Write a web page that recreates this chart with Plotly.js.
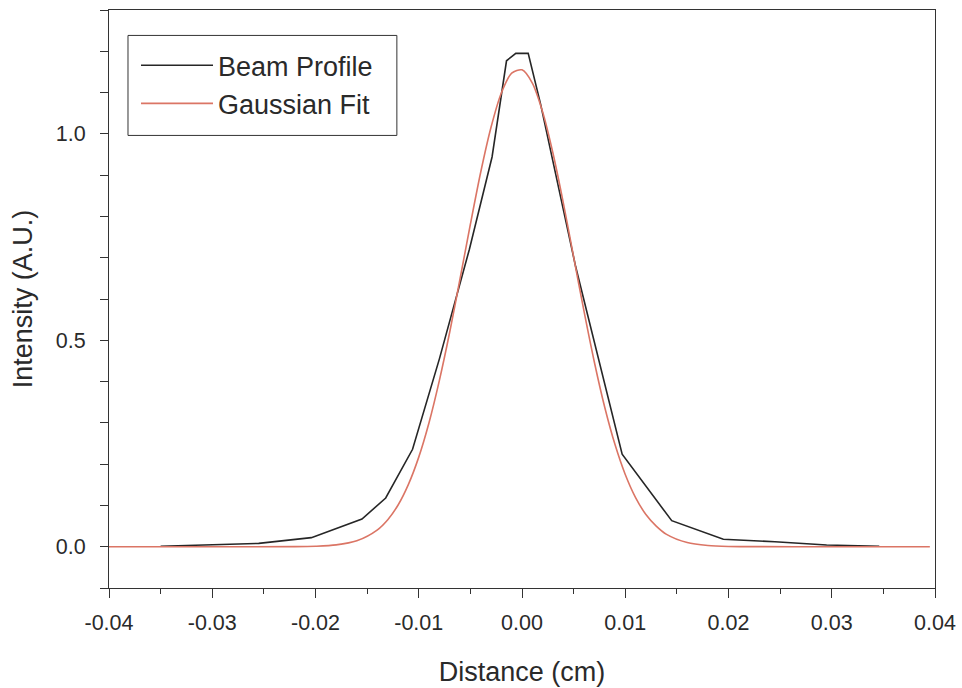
<!DOCTYPE html>
<html>
<head>
<meta charset="utf-8">
<script src="https://cdn.plot.ly/plotly-3.0.1.min.js"></script>
<style>
  html, body { margin: 0; padding: 0; background: #ffffff; }
  #chart { width: 962px; height: 688px; }
</style>
</head>
<body>
<div id="chart"></div>
<script>
// Beam profile (measured, piecewise linear)
const beamX = [-0.0350, -0.0303, -0.0255, -0.0204, -0.0155, -0.0132, -0.0106, -0.0080, -0.0051, -0.0029, -0.0015, -0.0006, 0.0006, 0.0018, 0.0052, 0.0097, 0.0145, 0.0195, 0.0245, 0.0295, 0.0346];
const beamY = [0.001, 0.004, 0.008, 0.022, 0.067, 0.118, 0.236, 0.455, 0.720, 0.944, 1.177, 1.195, 1.195, 1.072, 0.678, 0.224, 0.063, 0.018, 0.012, 0.004, 0.001];

// Gaussian fit
const fitX = [-0.040, -0.030, -0.022, -0.020, -0.018, -0.016, -0.014, -0.013, -0.012, -0.011, -0.010, -0.009, -0.008, -0.007, -0.006, -0.005, -0.004, -0.003, -0.002, -0.001, 0.000, 0.001, 0.002, 0.003, 0.004, 0.005, 0.006, 0.007, 0.008, 0.009, 0.010, 0.011, 0.012, 0.013, 0.014, 0.016, 0.018, 0.020, 0.022, 0.030, 0.0395];
const fitY = [0, 0, 0.0002, 0.0012, 0.0044, 0.0144, 0.041, 0.0655, 0.101, 0.151, 0.217, 0.301, 0.403, 0.520, 0.649, 0.781, 0.907, 1.016, 1.099, 1.147, 1.155, 1.123, 1.053, 0.953, 0.833, 0.702, 0.571, 0.448, 0.339, 0.248, 0.175, 0.119, 0.078, 0.050, 0.030, 0.010, 0.003, 0.0007, 0.0002, 0, 0];

// Tick labels
const xTickVals = [-0.04, -0.03, -0.02, -0.01, 0.00, 0.01, 0.02, 0.03, 0.04];
const xTickText = ["-0.04", "-0.03", "-0.02", "-0.01", "0.00", "0.01", "0.02", "0.03", "0.04"];
const yTickVals = [0.0, 0.5, 1.0];
const yTickText = ["0.0", "0.5", "1.0"];

const seriesNames = ["Beam Profile", "Gaussian Fit"];
const xTitle = "Distance (cm)";
const yTitle = "Intensity (A.U.)";

const FONT = "Liberation Sans, Arial, sans-serif";
const INK = "#2a2a2a";

const traces = [
  {
    x: beamX, y: beamY, type: "scatter", mode: "lines", name: seriesNames[0],
    line: { color: "#262626", width: 1.6 }
  },
  {
    x: fitX, y: fitY, type: "scatter", mode: "lines", name: seriesNames[1],
    line: { color: "#db7565", width: 1.6, shape: "spline", smoothing: 0.8 }
  }
];

const layout = {
  width: 962, height: 688,
  paper_bgcolor: "#ffffff", plot_bgcolor: "#ffffff",
  margin: { l: 109, r: 26.5, t: 9.5, b: 99.5 },
  font: { family: FONT, color: INK, size: 21 },
  showlegend: true,
  legend: {
    x: 0.0327, y: 0.946, xanchor: "left", yanchor: "top",
    bgcolor: "rgba(0,0,0,0)", borderwidth: 0,
    font: { family: FONT, size: 27, color: INK },
    tracegroupgap: 0, itemwidth: 72
  },
  shapes: [
    { type: "rect", xref: "paper", yref: "paper",
      x0: 0.0230, x1: 0.3485, y0: 0.783, y1: 0.956,
      line: { color: "#333333", width: 1 }, fillcolor: "rgba(0,0,0,0)", layer: "above" }
  ],
  xaxis: {
    range: [-0.04, 0.04], tickmode: "array", tickvals: xTickVals, ticktext: xTickText,
    ticks: "outside", ticklen: 9, tickwidth: 1, tickcolor: "#333",
    minor: { dtick: 0.005, tick0: -0.04, ticks: "outside", ticklen: 5, tickwidth: 1, tickcolor: "#333" },
    showline: true, linecolor: "#333", linewidth: 1, mirror: true,
    showgrid: false, zeroline: false,
    tickfont: { family: FONT, size: 21.5, color: INK },
    ticklabelstandoff: 6,
    title: { text: xTitle, font: { family: FONT, size: 27, color: INK }, standoff: 28 }
  },
  yaxis: {
    range: [-0.1, 1.3], tickmode: "array", tickvals: yTickVals, ticktext: yTickText,
    ticks: "outside", ticklen: 8, tickwidth: 1, tickcolor: "#333",
    minor: { dtick: 0.1, tick0: 0, ticks: "outside", ticklen: 8, tickwidth: 1, tickcolor: "#333" },
    showline: true, linecolor: "#333", linewidth: 1, mirror: true,
    showgrid: false, zeroline: false,
    tickfont: { family: FONT, size: 21.5, color: INK },
    ticklabelstandoff: 10,
    title: { text: yTitle, font: { family: FONT, size: 27, color: INK }, standoff: 15 }
  }
};

Plotly.newPlot("chart", traces, layout, { staticPlot: true, displayModeBar: false });
</script>
</body>
</html>
